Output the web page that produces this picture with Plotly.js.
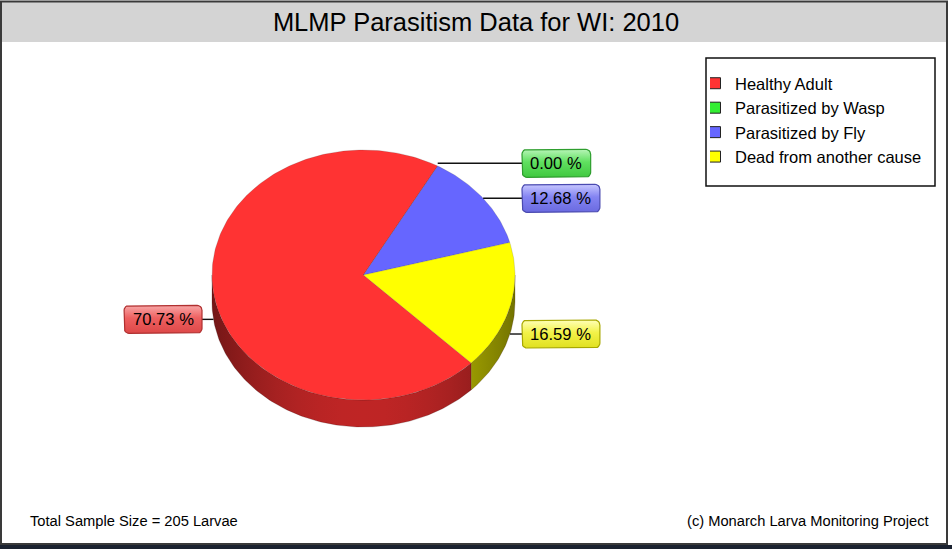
<!DOCTYPE html>
<html>
<head>
<meta charset="utf-8">
<script src="https://cdn.plot.ly/plotly-3.0.1.min.js"></script>
<style>html,body{margin:0;padding:0;background:#fff;}#chart{width:952px;height:549px;}</style>
</head>
<body>
<div id="chart"></div>
<script>
// ---------------- data ----------------
const categories = ['Healthy Adult', 'Parasitized by Wasp', 'Parasitized by Fly', 'Dead from another cause'];
const percents = [70.73, 0.00, 12.68, 16.59];
const sampleSize = 205;
const titleText = 'MLMP Parasitism Data for WI: 2010';
const footerLeft = 'Total Sample Size = ' + sampleSize + ' Larvae';
const footerRight = '(c) Monarch Larva Monitoring Project';

// ---------------- style ----------------
const faceColors = ['#ff3333', '#33ee33', '#6666ff', '#ffff00'];
const baseRGB = [[255, 50, 50], [50, 230, 50], [100, 100, 255], [255, 255, 0]];
const boxGrad = [
  ['#f8a8a8', '#ee6060', '#dd4848'],
  ['#b8f5b8', '#60e060', '#40c840'],
  ['#c8c8ff', '#8484f2', '#6a6ae0'],
  ['#ffffb8', '#f2f248', '#e0e020']
];
const boxBorder = ['#b03030', '#2e9e2e', '#4a4ab0', '#a8a800'];
const FONT = 'Liberation Sans, Arial, sans-serif';

// geometry (pixel-space layout constants)
const W = 952, H = 549;
const CX = 363.5, CY = 275, RX = 151.5, RY = 125, DEPTH = 27;
const START = -44.7;           // degrees (math), slices go clockwise
const LABEL_RIGHT_X = 522, LABEL_LEFT_X = 202;
const BOX_H = 28, BOX_GAP = 7, LABEL_FS = 16.6;

const rad = d => d * Math.PI / 180;
const px = a => CX + RX * Math.cos(rad(a));
const py = a => CY - RY * Math.sin(rad(a));

function arc(a, b, step) { // angles from a to b
  const n = Math.max(1, Math.ceil(Math.abs(b - a) / step));
  const pts = [];
  for (let i = 0; i <= n; i++) pts.push(a + (b - a) * i / n);
  return pts;
}

const traces = [];
const annotations = [];

// slice angles
const angles = [];
let a0 = START;
percents.forEach(p => { const a1 = a0 - p / 100 * 360; angles.push([a1, a0]); a0 = a1; });

// side walls (front half: math angles in (-180,0) mod 360)
angles.forEach(([lo, hi], i) => {
  for (let k = -3; k <= 1; k++) {
    const wlo = Math.max(lo, -180 + 360 * k), whi = Math.min(hi, 0 + 360 * k);
    if (whi - wlo <= 0.01) continue;
    const top = arc(wlo, whi, 1);
    const xs = [], ys = [];
    top.forEach(a => { xs.push(px(a)); ys.push(py(a)); });
    top.slice().reverse().forEach(a => { xs.push(px(a)); ys.push(py(a) + DEPTH); });
    xs.push(xs[0]); ys.push(ys[0]);
    const xmin = Math.min(...xs), xmax = Math.max(...xs);
    const cs = [];
    const N = 12;
    for (let j = 0; j <= N; j++) {
      const x = xmin + (xmax - xmin) * j / N;
      const u = (x - CX) / RX;
      const f = 0.75 - 0.3 * u * u;
      const c = baseRGB[i].map(v => Math.round(v * f));
      cs.push([j / N, 'rgb(' + c.join(',') + ')']);
    }
    traces.push({
      x: xs, y: ys, mode: 'lines', fill: 'toself', line: {width: 0.6, color: 'rgba(40,0,0,0.35)'},
      fillgradient: {type: 'horizontal', start: xmin, stop: xmax, colorscale: cs},
      showlegend: false, hoverinfo: 'skip'
    });
  }
});

// top faces
angles.forEach(([lo, hi], i) => {
  const xs = [CX], ys = [CY];
  arc(hi, lo, 1).forEach(a => { xs.push(px(a)); ys.push(py(a)); });
  xs.push(CX); ys.push(CY);
  traces.push({
    x: xs, y: ys, mode: 'lines', fill: 'toself', fillcolor: faceColors[i],
    line: {width: 0.5, color: 'rgba(60,60,60,0.35)'}, showlegend: false, hoverinfo: 'skip'
  });
});

// label placement (anchors + simple collision avoidance on each side)
const labels = angles.map(([lo, hi], i) => {
  const m = (lo + hi) / 2;
  const s = Math.sin(rad(m));
  const ax = px(m), ay = py(m) + (s < 0 ? DEPTH : 0);
  return {i, ax, ay, ly: ay, right: Math.cos(rad(m)) >= 0};
});
[true, false].forEach(side => {
  const group = labels.filter(l => l.right === side).sort((a, b) => b.ly - a.ly); // bottom first
  for (let k = 1; k < group.length; k++) {
    const lim = group[k - 1].ly - BOX_H - BOX_GAP;
    if (group[k].ly > lim) group[k].ly = lim;
  }
});

const ctx = document.createElement('canvas').getContext('2d');
ctx.font = LABEL_FS + 'px "Liberation Sans"';
labels.forEach(({i, ax, ay, ly, right}) => {
  const txt = percents[i].toFixed(2) + ' %';
  const bw = ctx.measureText(txt).width + 17;
  const bx0 = right ? LABEL_RIGHT_X : LABEL_LEFT_X - bw;
  const bx1 = bx0 + bw;
  const by0 = ly - BOX_H / 2, by1 = ly + BOX_H / 2;
  // leader
  traces.push({
    x: [ax, right ? bx0 : bx1], y: [ly, ly], mode: 'lines',
    line: {color: '#111', width: 1.4}, showlegend: false, hoverinfo: 'skip'
  });
  // rounded box
  const r = 5, xs = [], ys = [];
  const corner = (cx, cy, a1, a2) => arc(a1, a2, 15).forEach(a => {
    xs.push(cx + r * Math.cos(rad(a))); ys.push(cy - r * Math.sin(rad(a)));
  });
  corner(bx1 - r, by0 + r, 0, 90);
  corner(bx0 + r, by0 + r, 90, 180);
  corner(bx0 + r, by1 - r, 180, 270);
  corner(bx1 - r, by1 - r, 270, 360);
  xs.push(xs[0]); ys.push(ys[0]);
  traces.push({
    x: xs, y: ys, mode: 'lines', fill: 'toself',
    line: {color: boxBorder[i], width: 1.2},
    fillgradient: {type: 'vertical', start: by0, stop: by1,
      colorscale: [[0, boxGrad[i][0]], [0.45, boxGrad[i][1]], [1, boxGrad[i][2]]]},
    showlegend: false, hoverinfo: 'skip'
  });
  annotations.push({
    x: (bx0 + bx1) / 2, y: ly, xref: 'x', yref: 'y', text: txt, showarrow: false,
    xanchor: 'center', yanchor: 'middle', font: {family: FONT, size: LABEL_FS, color: '#000'}
  });
});

// legend entries
categories.forEach((c, i) => {
  traces.push({
    x: [null], y: [null], mode: 'markers', name: c,
    marker: {symbol: 'square', size: 11, color: faceColors[i], line: {color: '#222', width: 1}},
    showlegend: true, hoverinfo: 'skip'
  });
});

annotations.push(
  {x: 28, y: 521, xref: 'x', yref: 'y', text: footerLeft, showarrow: false, xanchor: 'left', yanchor: 'middle',
   font: {family: FONT, size: 14.7, color: '#000'}},
  {x: 931, y: 521, xref: 'x', yref: 'y', text: footerRight, showarrow: false, xanchor: 'right', yanchor: 'middle',
   font: {family: FONT, size: 14.7, color: '#000'}}
);

const shapes = [
  {type: 'rect', xref: 'x', yref: 'y', x0: 1, x1: 947, y0: 1, y1: 42, fillcolor: '#d4d4d4', line: {width: 0}, layer: 'below'},
  {type: 'rect', xref: 'x', yref: 'y', x0: 1, x1: 947, y0: 1.5, y1: 544, fillcolor: 'rgba(0,0,0,0)', line: {color: '#3a3a3a', width: 2}},
  {type: 'rect', xref: 'x', yref: 'y', x0: 0, x1: 952, y0: 545, y1: 549, fillcolor: '#1b2230', line: {width: 0}},
  {type: 'rect', xref: 'x', yref: 'y', x0: 706, x1: 935, y0: 58, y1: 186, fillcolor: 'rgba(0,0,0,0)', line: {color: '#111', width: 1.5}}
];

const layout = {
  width: W, height: H, autosize: false,
  margin: {l: 0, r: 0, t: 0, b: 0, pad: 0},
  paper_bgcolor: '#fff', plot_bgcolor: '#fff',
  xaxis: {range: [0, W], visible: false, fixedrange: true},
  yaxis: {range: [H, 0], visible: false, fixedrange: true},
  title: {text: titleText, x: 0.5, xanchor: 'center', y: 1 - 22 / H, yanchor: 'middle', yref: 'container',
          font: {family: FONT, size: 25.5, color: '#000'}},
  showlegend: true,
  legend: {x: 710 / W, y: 1 - 66 / H, xanchor: 'left', yanchor: 'top', bgcolor: 'rgba(0,0,0,0)', borderwidth: 0,
           font: {family: FONT, size: 16.5, color: '#000'}, tracegroupgap: 0, indentation: -15},
  shapes: shapes, annotations: annotations, hovermode: false
};

Plotly.newPlot('chart', traces, layout, {staticPlot: true, displayModeBar: false});
</script>
</body>
</html>
